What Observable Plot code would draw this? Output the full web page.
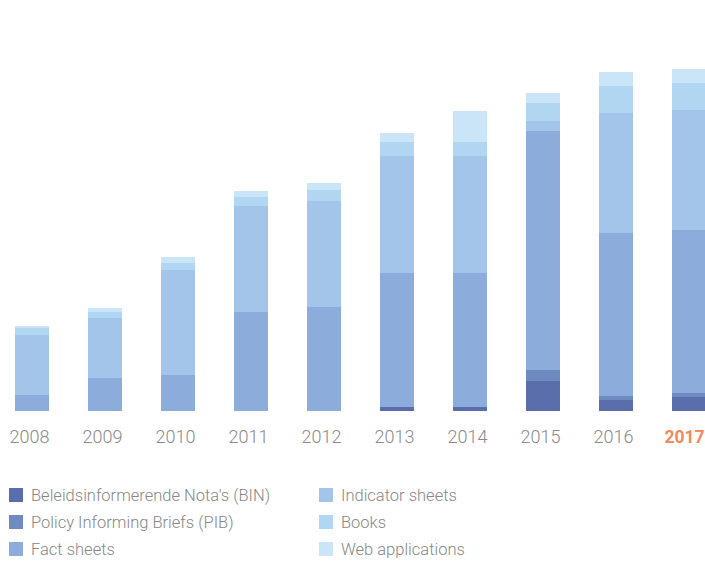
<!DOCTYPE html>
<html>
<head>
<meta charset="utf-8">
<script src="https://cdn.jsdelivr.net/npm/d3@7"></script>
<script src="https://cdn.jsdelivr.net/npm/@observablehq/plot@0.6"></script>
<style>
  html, body { margin: 0; padding: 0; background: #fff; }
  body { width: 705px; height: 562px; overflow: hidden; font-family: Roboto, sans-serif; }
  #chart svg { display: block; }
  #legend { position: relative; margin-top: 18px; height: 80px; }
  .item { position: absolute; height: 14px; display: flex; align-items: center; }
  .sw { width: 14px; height: 14px; flex: none; }
  .lab { margin-left: 8px; font-size: 16.5px; font-weight: 300; color: #878787; white-space: nowrap; line-height: 14px; position: relative; top: 1px; }
</style>
</head>
<body>
<div id="chart"></div>
<div id="legend"></div>
<script>
const years = [2008, 2009, 2010, 2011, 2012, 2013, 2014, 2015, 2016, 2017];
const seriesNames = [
  "Beleidsinformerende Nota's (BIN)",
  "Policy Informing Briefs (PIB)",
  "Fact sheets",
  "Indicator sheets",
  "Books",
  "Web applications"
];
const seriesColors = ["#5a6eac", "#6f89c1", "#8cacdb", "#a3c5ea", "#b1d6f2", "#c9e5f7"];
const bin       = [0, 0, 0, 0, 0, 4, 4, 30, 11, 14];
const pib       = [0, 0, 0, 0, 0, 0, 0, 11, 4, 4];
const fact      = [16, 33, 36, 99, 104, 134, 134, 239, 163, 163];
const indicator = [60, 60, 105, 106, 106, 117, 117, 10, 120, 120];
const books     = [7, 6, 7, 9, 11, 14, 14, 18, 27, 27];
const web       = [2, 4, 6, 6, 7, 9, 31, 10, 14, 14];

const seriesValues = [bin, pib, fact, indicator, books, web];
const data = [];
years.forEach((yr, i) => {
  seriesNames.forEach((name, s) => {
    data.push({year: yr, type: name, value: seriesValues[s][i]});
  });
});

const chart = Plot.plot({
  width: 705,
  height: 470,
  marginLeft: 14,
  marginRight: -1,
  marginTop: 11,
  marginBottom: 59,
  style: {fontFamily: "Roboto, sans-serif", background: "#fff"},
  x: {type: "band", domain: years, paddingInner: 0.535, paddingOuter: 0, align: 0.5, axis: null, label: null},
  y: {domain: [0, 400], axis: null, label: null},
  color: {domain: seriesNames, range: seriesColors},
  marks: [
    Plot.barY(data, {x: "year", y: "value", fill: "type", order: seriesNames}),
    Plot.axisX(years.filter(d => d !== 2017), {
      tickSize: 0, tickPadding: 19, fontSize: 18, fontWeight: 300, label: null,
      fill: "#8a8a8a", color: "#8a8a8a", dx: -3, tickFormat: d => String(d)
    }),
    Plot.axisX([2017], {
      tickSize: 0, tickPadding: 19, fontSize: 17.5, fontWeight: 700, label: null,
      fill: "#f08a5e", color: "#f08a5e", dx: -5, tickFormat: d => String(d)
    })
  ]
});
document.getElementById("chart").appendChild(chart);

const legend = document.getElementById("legend");
const positions = [[9, 0], [9, 27], [9, 54], [319, 0], [319, 27], [319, 54]];
seriesNames.forEach((name, i) => {
  const it = document.createElement("div");
  it.className = "item";
  it.style.left = positions[i][0] + "px";
  it.style.top = positions[i][1] + "px";
  const sw = document.createElement("div");
  sw.className = "sw";
  sw.style.background = seriesColors[i];
  const lab = document.createElement("span");
  lab.className = "lab";
  lab.textContent = name;
  it.appendChild(sw);
  it.appendChild(lab);
  legend.appendChild(it);
});
</script>
</body>
</html>
